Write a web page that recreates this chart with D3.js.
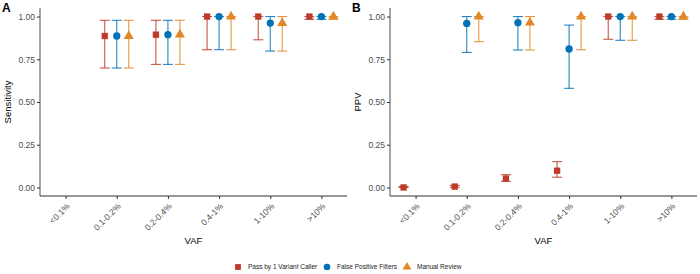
<!DOCTYPE html>
<html>
<head>
<meta charset="utf-8">
<script src="https://cdn.jsdelivr.net/npm/d3@7"></script>
<style>
  body { margin: 0; background: #fff; }
  svg { font-family: "Liberation Sans", Arial, sans-serif; }
</style>
</head>
<body>
<div id="chart"></div>
<script>
const categories = ["<0.1%", "0.1-0.2%", "0.2-0.4%", "0.4-1%", "1-10%", ">10%"];
const methods = ["Pass by 1 Variant Caller", "False Positive Filters", "Manual Review"];
const yTicks = [0, 0.25, 0.5, 0.75, 1];

// panel A: sensitivity (null = not available)
const sensPass = [null, 0.886, 0.894, 1, 1, 1];
const sensPassLo = [null, 0.699, 0.72, 0.806, 0.864, 0.984];
const sensPassHi = [null, 0.978, 0.978, 1, 1, 1];
const sensFpf = [null, 0.886, 0.894, 1, 0.962, 1];
const sensFpfLo = [null, 0.699, 0.72, 0.806, 0.798, 0.984];
const sensFpfHi = [null, 0.978, 0.978, 1, 1, 1];
const sensManual = [null, 0.886, 0.894, 1, 0.962, 1];
const sensManualLo = [null, 0.699, 0.72, 0.806, 0.798, 0.984];
const sensManualHi = [null, 0.978, 0.978, 1, 1, 1];

// panel B: PPV
const ppvPass = [0.0, 0.005, 0.052, 0.098, 1, 1];
const ppvPassLo = [0.0, 0.001, 0.036, 0.06, 0.867, 0.984];
const ppvPassHi = [0.006, 0.012, 0.075, 0.151, 1, 1];
const ppvFpf = [null, 0.96, 0.964, 0.81, 1, 1];
const ppvFpfLo = [null, 0.79, 0.804, 0.58, 0.861, 0.984];
const ppvFpfHi = [null, 1, 1, 0.95, 1, 1];
const ppvManual = [null, 1, 0.964, 1, 1, 1];
const ppvManualLo = [null, 0.853, 0.804, 0.806, 0.861, 0.984];
const ppvManualHi = [null, 1, 1, 1, 1, 1];

const colors = ["#BC3C29", "#0072B5", "#E18727"];
const shapes = [d3.symbolSquare, d3.symbolCircle, d3.symbolTriangle];
const shapeSize = [40, 42, 44];

const rows = (vals, los, his) =>
	vals.map((v, i) => ({ cat: categories[i], v: v, lo: los[i], hi: his[i] })).filter((d) => d.v !== null);

const panels = [
	{
		letter: "A", label: "Sensitivity", left: 40, right: 347,
		series: [rows(sensPass, sensPassLo, sensPassHi), rows(sensFpf, sensFpfLo, sensFpfHi), rows(sensManual, sensManualLo, sensManualHi)]
	},
	{
		letter: "B", label: "PPV", left: 390, right: 697,
		series: [rows(ppvPass, ppvPassLo, ppvPassHi), rows(ppvFpf, ppvFpfLo, ppvFpfHi), rows(ppvManual, ppvManualLo, ppvManualHi)]
	}
];

const W = 700, H = 274, plotTop = 8, plotBottom = 196;
const svg = d3.select("#chart").append("svg").attr("width", W).attr("height", H);

const y = d3.scaleLinear().domain([-0.05, 1.05]).range([plotBottom, plotTop]);
const dodge = d3.scalePoint().domain([0, 1, 2]).range([-12, 12]);

panels.forEach((p) => {
	const x = d3.scalePoint().domain(categories).range([p.left, p.right]).padding(0.5);
	const g = svg.append("g");

	g.append("text").attr("x", p.left - 38).attr("y", 12).style("font-size", "12px").style("font-weight", "bold").text(p.letter);

	// y axis
	const ya = g.append("g").attr("transform", `translate(${p.left},0)`)
		.call(d3.axisLeft(y).tickValues(yTicks).tickSize(3).tickPadding(2).tickFormat(d3.format(".2f")));
	ya.select(".domain").attr("stroke", "#808080").attr("stroke-width", 1.4).attr("d", `M0,${plotTop}V${plotBottom}`);
	ya.selectAll(".tick line").attr("stroke", "#333");
	ya.selectAll(".tick text").attr("fill", "#4d4d4d").style("font-size", "8.5px").style("font-family", "inherit");

	// x axis
	const xa = g.append("g").attr("transform", `translate(0,${plotBottom})`)
		.call(d3.axisBottom(x).tickSize(3));
	xa.select(".domain").attr("stroke", "#333").attr("d", `M${p.left},0H${p.right}`);
	xa.selectAll(".tick line").attr("stroke", "#333");
	xa.selectAll(".tick text")
		.attr("fill", "#4d4d4d").style("font-size", "8.5px").style("font-family", "inherit")
		.attr("text-anchor", "end").attr("dy", null).attr("y", 0)
		.attr("transform", "translate(4,11) rotate(-45)");

	g.append("text").attr("x", (p.left + p.right) / 2).attr("y", 244).attr("text-anchor", "middle")
		.style("font-size", "9.5px").text("VAF");
	g.append("text").attr("transform", `translate(${p.left - 29},${(plotTop + plotBottom) / 2}) rotate(-90)`)
		.attr("text-anchor", "middle").style("font-size", "9.5px").text(p.label);

	p.series.forEach((data, k) => {
		const cx = (d) => x(d.cat) + dodge(k);
		const s = g.append("g").attr("stroke", colors[k]).attr("fill", colors[k]);
		s.selectAll("line.v").data(data).join("line")
			.attr("x1", cx).attr("x2", cx).attr("y1", (d) => y(d.lo)).attr("y2", (d) => y(d.hi))
			.attr("stroke-width", 1.1).attr("stroke-opacity", 0.85);
		s.selectAll("line.lo").data(data).join("line")
			.attr("x1", (d) => cx(d) - 5).attr("x2", (d) => cx(d) + 5)
			.attr("y1", (d) => y(d.lo)).attr("y2", (d) => y(d.lo)).attr("stroke-width", 1.1).attr("stroke-opacity", 0.85);
		s.selectAll("line.hi").data(data).join("line")
			.attr("x1", (d) => cx(d) - 5).attr("x2", (d) => cx(d) + 5)
			.attr("y1", (d) => y(d.hi)).attr("y2", (d) => y(d.hi)).attr("stroke-width", 1.1).attr("stroke-opacity", 0.85);
		s.selectAll("path").data(data).join("path")
			.attr("d", d3.symbol(shapes[k], shapeSize[k]))
			.attr("stroke", "none")
			.attr("transform", (d) => `translate(${cx(d)},${y(d.v)})`);
	});
});

// legend
const legendX = [238, 327, 407];
const lg = svg.append("g").attr("transform", "translate(0,267)");
methods.forEach((m, k) => {
	lg.append("path").attr("d", d3.symbol(shapes[k], 34)).attr("fill", colors[k])
		.attr("transform", `translate(${legendX[k]},0)`);
	lg.append("text").attr("x", legendX[k] + 10).attr("y", 2.3).style("font-size", "6.5px").attr("fill", "#222").text(m);
});
</script>
</body>
</html>
